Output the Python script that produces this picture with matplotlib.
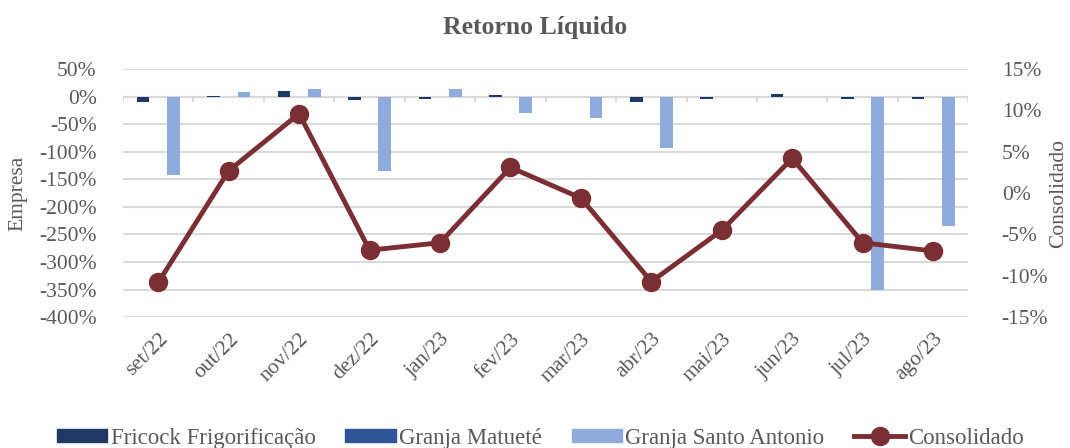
import matplotlib.pyplot as plt
import matplotlib.transforms as mtransforms
from matplotlib.patches import Patch
from matplotlib.lines import Line2D
import numpy as np

plt.rcParams['font.family'] = ['Liberation Serif', 'DejaVu Serif']

# data
meses = ['set/22', 'out/22', 'nov/22', 'dez/22', 'jan/23', 'fev/23',
         'mar/23', 'abr/23', 'mai/23', 'jun/23', 'jul/23', 'ago/23']
fricock = [-10, 1, 10, -6, -5, 3, 0, -10, -4, 4, -5, -5]
matuete = [0, 0, 0, 0, 0, 0, 0, 0, 0, 0, 0, 0]
santo_antonio = [-142, 9, 13, -135, 13, -30, -39, -93, 0, 0, -350, -235]
consolidado = [-10.8, 2.7, 9.6, -6.9, -6.0, 3.1, -0.6, -10.7, -4.5, 4.2, -6.0, -7.0]

grey = '#595959'
c_fric = '#1f3864'
c_mat = '#2f5597'
c_santo = '#8faadc'
c_cons = '#7b2f34'

fig = plt.figure(figsize=(10.7, 4.48), dpi=100)
ax = fig.add_axes([0.115, 0.292, 0.79, 0.554])
ax2 = ax.twinx()

x = np.arange(len(meses))
w = 0.18
ax.bar(x - 0.215, fricock, w, color=c_fric, zorder=2)
ax.bar(x, matuete, w, color=c_mat, zorder=2)
ax.bar(x + 0.215, santo_antonio, w, color=c_santo, zorder=2)

ax.set_ylim(-400, 50)
ax.set_yticks(np.arange(-400, 51, 50))
ax.set_yticklabels([f'{v}%' for v in range(-400, 51, 50)])
ax.set_xlim(-0.5, len(meses) - 0.5)
ax.grid(axis='y', color='#d9d9d9', linewidth=1.5, zorder=0)
ax.set_axisbelow(True)

# category axis line at 0 with tick marks between months
ax.axhline(0, color='#d9d9d9', linewidth=1.5, zorder=1)
trans = mtransforms.blended_transform_factory(ax.transData, ax.transAxes)
bounds = np.arange(-0.5, len(meses), 1.0)
ax.vlines(bounds, 0.8905 - 0.025, 0.8905, transform=trans, color='#d9d9d9', linewidth=1.5, zorder=1)

ax.set_xticks(x)
ax.set_xticklabels(meses, rotation=45, ha='right', rotation_mode='anchor')
ax.tick_params(axis='x', length=0, pad=9, labelsize=15.5, colors=grey)
ax.tick_params(axis='y', length=0, pad=19, labelsize=15.5, colors=grey)
for s in ax.spines.values():
    s.set_visible(False)
for s in ax2.spines.values():
    s.set_visible(False)

ax2.plot(x, consolidado, color=c_cons, linewidth=3.5, marker='o', markersize=13, zorder=3)
ax2.set_ylim(-15, 15)
ax2.set_yticks(np.arange(-15, 16, 5))
ax2.set_yticklabels([f'{v}%' for v in range(-15, 16, 5)])
ax2.tick_params(axis='y', length=0, pad=24, labelsize=15.5, colors=grey)

ax.set_ylabel('Empresa', fontsize=15.5, color=grey, va='center', ha='center')
ax.yaxis.set_label_coords(-0.124, 0.5)
ax2.set_ylabel('Consolidado', fontsize=15.5, color=grey, rotation=90, va='center', ha='center')
ax2.yaxis.set_label_coords(1.1065, 0.5)

fig.suptitle('Retorno Líquido', fontsize=18.5, fontweight='bold', color=grey, y=0.965)

handles = [Patch(color=c_fric), Patch(color=c_mat), Patch(color=c_santo),
           Line2D([0], [0], color=c_cons, linewidth=3.5, marker='o', markersize=13)]
labels = ['Fricock Frigorificação', 'Granja Matueté', 'Granja Santo Antonio', 'Consolidado']
fig.legend(handles, labels, loc='center', bbox_to_anchor=(0.505, 0.022), ncol=4,
           frameon=False, fontsize=16.5, labelcolor=grey, handlelength=2.2,
           handleheight=0.45, columnspacing=1.3, handletextpad=0.15)

fig.savefig('out.png', dpi=100)
